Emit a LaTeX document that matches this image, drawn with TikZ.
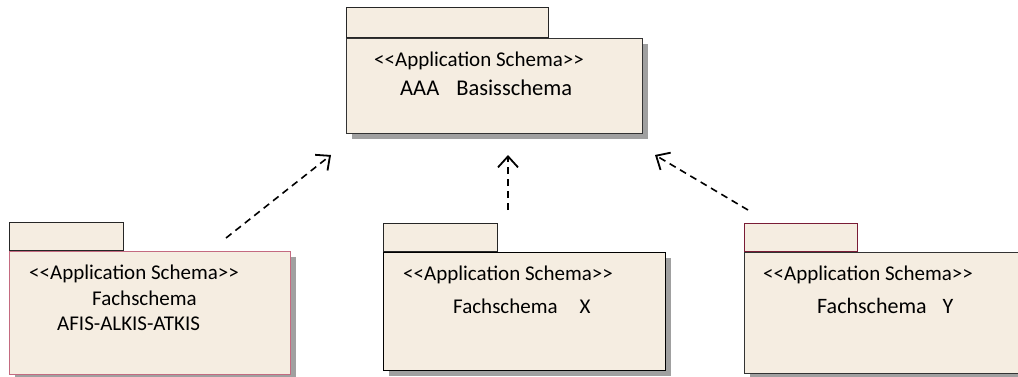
\documentclass[tikz,border=0pt]{standalone}
\usepackage{fontspec}
\newfontfamily\umlfont{Carlito}
\usetikzlibrary{positioning,shadows,arrows.meta}
\definecolor{pkgfill}{HTML}{F5EDE1}
\definecolor{pkgshadow}{HTML}{A0A0A0}
\definecolor{pinkline}{HTML}{C46A80}
\definecolor{wineline}{HTML}{7A1C36}

\begin{document}
\begin{tikzpicture}[x=1pt,y=-1pt]
      \tikzstyle{pkgbody}=[rectangle, draw=black!80, fill=pkgfill, line width=1.2pt, inner sep=0pt, anchor=north west, drop shadow={shadow xshift=5pt, shadow yshift=-5pt, fill=pkgshadow, opacity=1}]
      \tikzstyle{pkgtab}=[rectangle, draw=black!85, fill=pkgfill, line width=1.2pt, inner sep=0pt, anchor=south west, minimum height=28pt]
      \tikzstyle{pkgtext}=[anchor=base west, inner sep=0pt, font=\umlfont\fontsize{21}{24}\selectfont]
      \tikzstyle{connect}=[-{Straight Barb[length=11pt,width=20pt,line width=1.8pt]}, line width=1.6pt, dash pattern=on 7pt off 5pt]

      \clip (0,0) rectangle (1018,376);

      \node[pkgbody, minimum width=296pt, minimum height=95pt] (basis) at (346,38) {};
      \node[pkgtab, minimum width=202pt, minimum height=30pt] (basistab) at (basis.north west) {};
      \node[pkgtext] (basisst) at (374,66) {<<Application Schema>>};
      \node[pkgtext, font=\umlfont\fontsize{22.5}{26}\selectfont] (basisname) at (400,95) {AAA\hspace{17pt}Basisschema};

      \node[pkgbody, draw=pinkline, minimum width=281pt, minimum height=123pt] (afis) at (9,251) {};
      \node[pkgtab, minimum width=114pt] (afistab) at (afis.north west) {};
      \node[pkgtext] (afisst) at (29,279) {<<Application Schema>>};
      \node[pkgtext] (afisname) at (92,305) {Fachschema};
      \node[pkgtext] (afisname2) at (57,330) {AFIS-ALKIS-ATKIS};

      \node[pkgbody, draw=black, minimum width=282pt, minimum height=118pt] (fachx) at (383,252) {};
      \node[pkgtab, minimum width=114pt] (fachxtab) at (fachx.north west) {};
      \node[pkgtext] (fachxst) at (403,280) {<<Application Schema>>};
      \node[pkgtext] (fachxname) at (453,313) {Fachschema\hspace{22pt}X};

      \node[pkgbody, minimum width=290pt, minimum height=121pt] (fachy) at (744,252) {};
      \node[pkgtab, draw=wineline, minimum width=113pt] (fachytab) at (fachy.north west) {};
      \node[pkgtext] (fachyst) at (763,280) {<<Application Schema>>};
      \node[pkgtext, font=\umlfont\fontsize{22}{26}\selectfont] (fachyname) at (817,313) {Fachschema\hspace{16pt}Y};

      \coordinate (afisfrom) at (226,238);
      \coordinate (afisto) at (331,155);
      \coordinate (fachxfrom) at (508,210);
      \coordinate (fachxto) at (508,155);
      \coordinate (fachyfrom) at (748,210);
      \coordinate (fachyto) at (655,155);

      \path (afisfrom) edge [connect] (afisto)
            (fachxfrom) edge [connect] (fachxto)
            (fachyfrom) edge [connect] (fachyto);
\end{tikzpicture}
\end{document}
